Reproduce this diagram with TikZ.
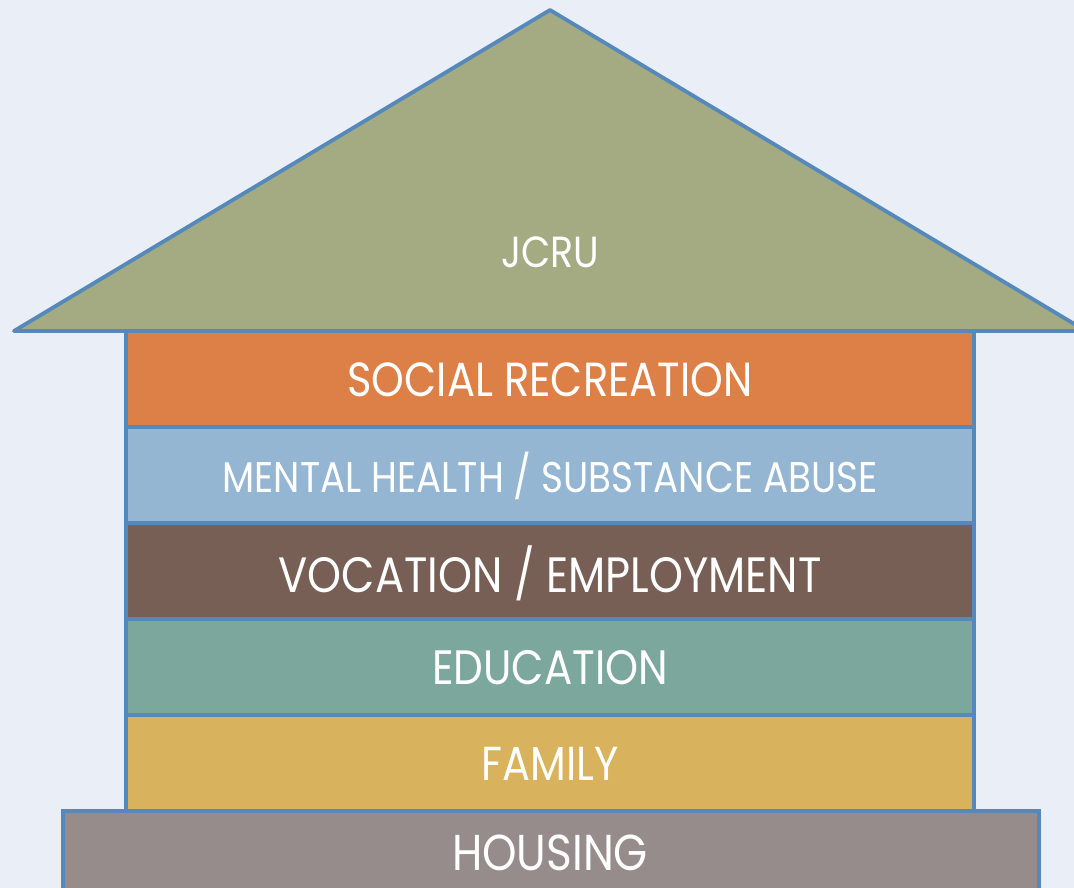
\documentclass[tikz,border=0pt]{standalone}
\usepackage{fontspec}
\setmainfont{Poppins}[FakeStretch=0.87]
\usepackage{graphicx}
\definecolor{bg}{HTML}{EAEFF7}
\definecolor{frame}{HTML}{5588BB}
\definecolor{roofc}{HTML}{A4AA81}
\definecolor{socialc}{HTML}{DD8047}
\definecolor{mentalc}{HTML}{94B6D2}
\definecolor{vocc}{HTML}{775F55}
\definecolor{educc}{HTML}{7BA79D}
\definecolor{famc}{HTML}{D8B25C}
\definecolor{housec}{HTML}{968C8C}
\newcommand{\fitw}[2]{\resizebox{#1pt}{!}{#2}}
\tikzset{
  outline/.style={draw=frame, line width=3.8pt},
  band/.style={outline, rectangle, minimum width=848pt, minimum height=96pt, inner sep=0pt},
  label/.style={text=white, inner sep=0pt, text depth=0pt, font=\fontsize{36}{40}\selectfont}
}
\begin{document}
\begin{tikzpicture}[x=1pt,y=-1pt]
\useasboundingbox (0,0) rectangle (1074,888);
\fill[bg] (0,0) rectangle (1074,888);
\begin{scope}
\clip (0,0) rectangle (1074,888);
\draw[outline, fill=roofc, line join=round] (14,331) -- (550,10) -- (1086,331) -- cycle;
\node[label] (jcru) at (550,252) {\fitw{98}{JCRU}};
\node[band, fill=socialc] (social) at (550,379) {};
\node[band, fill=mentalc] (mental) at (550,475) {};
\node[band, fill=vocc] (voc) at (550,571) {};
\node[band, fill=educc] (educ) at (550,667) {};
\node[band, fill=famc] (fam) at (550,763) {};
\node[outline, rectangle, minimum width=976pt, minimum height=90pt, inner sep=0pt, fill=housec] (house) at (551,856) {};
\node[label] (tsocial) at (550,380) {\fitw{405}{SOCIAL RECREATION}};
\node[label] (tmental) at (550,472) {\fitw{655}{MENTAL HEALTH / SUBSTANCE ABUSE}};
\node[label] (tvoc) at (550,569) {\fitw{543}{VOCATION / EMPLOYMENT}};
\node[label] (teduc) at (550,667) {\fitw{236}{EDUCATION}};
\node[label] (tfam) at (550,764) {\fitw{137}{FAMILY}};
\node[label] (thouse) at (550,853) {\fitw{196}{HOUSING}};
\end{scope}
\end{tikzpicture}
\end{document}
